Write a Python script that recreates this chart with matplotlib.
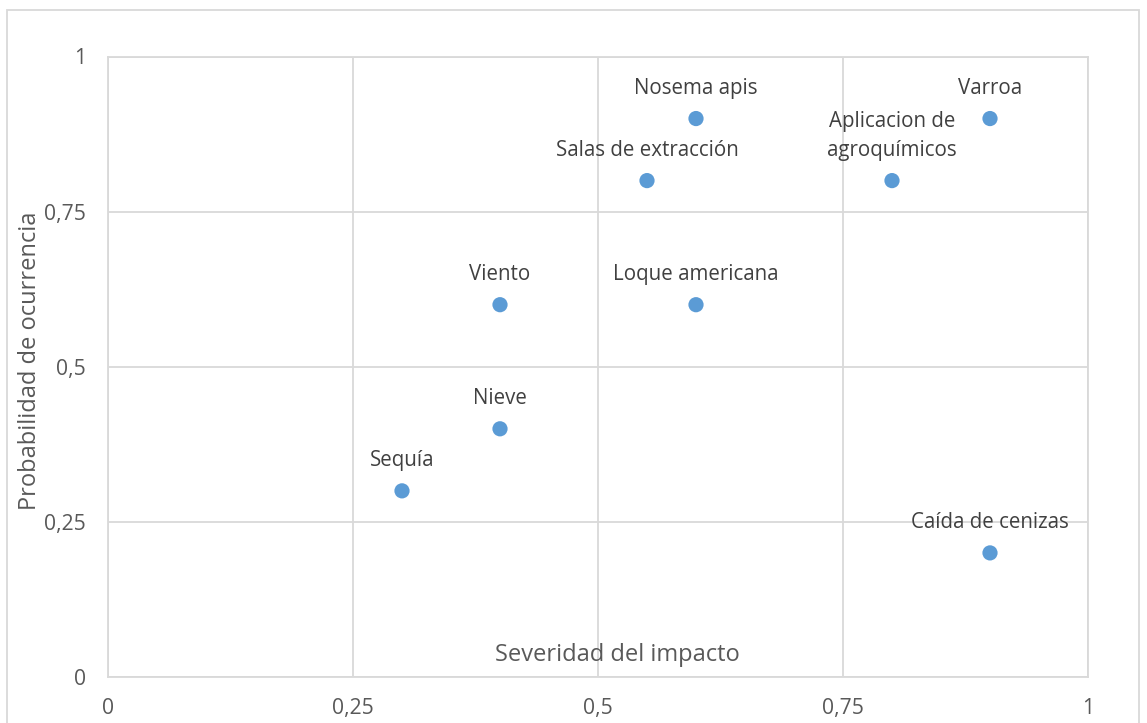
import matplotlib
matplotlib.use("Agg")
import matplotlib.pyplot as plt
from matplotlib.patches import Rectangle

labels = ["Sequía", "Nieve", "Viento", "Loque americana", "Salas de extracción",
          "Nosema apis", "Aplicacion de\nagroquímicos", "Varroa", "Caída de cenizas"]
severidad = [0.3, 0.4, 0.4, 0.6, 0.55, 0.6, 0.8, 0.9, 0.9]
probabilidad = [0.3, 0.4, 0.6, 0.6, 0.8, 0.9, 0.8, 0.9, 0.2]
ticks = [0, 0.25, 0.5, 0.75, 1]
tick_labels = ["0", "0,25", "0,5", "0,75", "1"]

W, H = 1147, 723
plt.rcParams['font.family'] = ['Open Sans', 'DejaVu Sans']
FS = 14.8
FT = 15.2
FA = 17
fig = plt.figure(figsize=(W / 100, H / 100), dpi=100)
fig.patch.set_facecolor('white')

# outer chart border
fig.patches.append(Rectangle((7 / W, -0.05), (1139 - 7) / W, 1.05 - 10 / H,
                             transform=fig.transFigure, fill=False,
                             edgecolor='#d9d9d9', linewidth=1.3))

ax = fig.add_axes([108 / W, (H - 677) / H, (1088 - 108) / W, (677 - 56.5) / H])
ax.set_xlim(0, 1)
ax.set_ylim(0, 1)
ax.set_xticks(ticks)
ax.set_yticks(ticks)
ax.set_xticklabels(tick_labels)
ax.set_yticklabels(tick_labels)
ax.tick_params(length=0, labelsize=FT, colors='#595959')
ax.tick_params(axis='x', pad=15)
ax.tick_params(axis='y', pad=16)
ax.grid(True, color='#d9d9d9', linewidth=1.3)
ax.set_axisbelow(True)
for s in ax.spines.values():
    s.set_color('#d9d9d9')
    s.set_linewidth(1.3)

ax.scatter(severidad, probabilidad, s=120, color='#5b9bd5', zorder=3, edgecolors='none')
for x, y, t in zip(severidad, probabilidad, labels):
    ax.annotate(t, (x, y), xytext=(0, 20), textcoords='offset pixels',
                ha='center', va='bottom', fontsize=FS, color='#404040',
                linespacing=1.5, zorder=4)

fig.text(617 / W, 1 - 655 / H, "Severidad del impacto", ha='center', va='center',
         fontsize=FA, color='#595959')
fig.text(30 / W, 1 - 361 / H, "Probabilidad de ocurrencia", ha='center', va='center',
         rotation=90, fontsize=FA, color='#595959')

fig.savefig("out.png", dpi=100, facecolor='white')
